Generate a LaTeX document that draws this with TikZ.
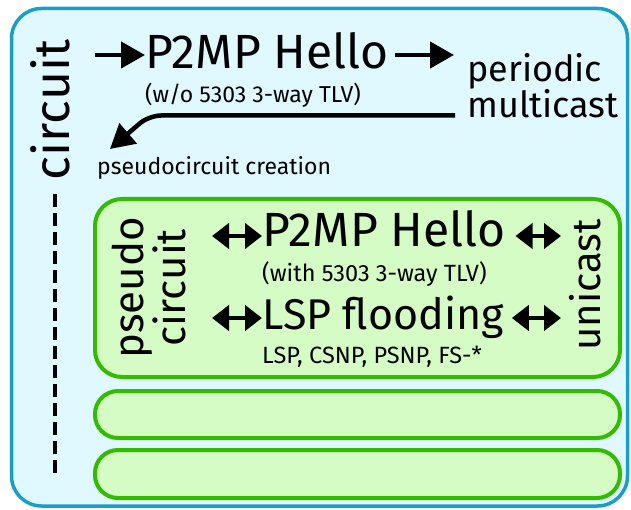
\documentclass[tikz,border=0pt]{standalone}
\usepackage{fontspec}
\setmainfont{Fira Sans}
\usetikzlibrary{arrows.meta}
\definecolor{outerline}{HTML}{1A9EC6}
\definecolor{outerfill}{HTML}{E0F8FF}
\definecolor{innerline}{HTML}{33BB00}
\definecolor{innerfill}{HTML}{D4FCC4}
\begin{document}
\begin{tikzpicture}[x=1pt,y=-1pt,
  outerbox/.style={draw=outerline,fill=outerfill,line width=3.5pt,rounded corners=30pt},
  innerbox/.style={draw=innerline,fill=innerfill,line width=4pt,rounded corners=#1},
  innerbox/.default=23pt,
  txt/.style={inner sep=0pt,font=\fontsize{#1}{#1}\selectfont},
  onearrow/.style={line width=4.5pt,-{Triangle[length=24pt,width=26pt]}},
  twoarrow/.style={line width=4.5pt,{Triangle[length=17pt,width=25pt]}-{Triangle[length=17pt,width=25pt]}}]
\useasboundingbox (0,0) rectangle (631,510);
% outer circuit frame
\draw[outerbox] (11.5,8.5) rectangle (627.5,506);
\node[txt=50,rotate=90,anchor=base] (circ) at (69,110) {circuit};
\coordinate (dtop) at (55,194);
\coordinate (dbot) at (55,478);
\draw[line width=4pt,dash pattern=on 13pt off 6pt] (dtop) -- (dbot);
% multicast hello
\node[txt=48,anchor=base west] (hello) at (145,69) {P2MP Hello};
\node[txt=23,anchor=base west] (wo) at (145,103) {(w/o 5303 3-way TLV)};
\node[txt=36,anchor=base west] (per) at (467,82) {periodic};
\node[txt=36,anchor=base west] (mul) at (467,118) {multicast};
\coordinate (a0) at (95,55);
\coordinate (a1) at (395,55);
\coordinate (a2) at (454,55);
\draw[onearrow] (a0) -- (a0 -| hello.west);
\draw[onearrow] (a1) -- (a2);
\coordinate (c0) at (455,115.5);
\coordinate (c1) at (149,115.5);
\coordinate (c2) at (110,149);
\draw[line width=4.5pt,rounded corners=12pt,-{Triangle[length=24pt,width=26pt]}] (c0) -- (c1) -- (c2);
\node[txt=23,anchor=base west] (pc) at (97,175) {pseudocircuit creation};
% pseudocircuit boxes
\draw[innerbox=27pt] (95,199) rectangle (620,377);
\draw[innerbox] (95,391) rectangle (620,438);
\draw[innerbox] (95,450) rectangle (620,498);
\node[txt=42,rotate=90,anchor=base] (pseudo) at (143,288) {pseudo};
\node[txt=42,rotate=90,anchor=base] (circ2) at (185,288) {circuit};
\node[txt=40,rotate=90,anchor=base] (uni) at (600,285) {unicast};
\node[txt=48,anchor=base west] (hello2) at (262,247) {P2MP Hello};
\node[txt=23.5,anchor=base west] (with) at (262,282) {(with 5303 3-way TLV)};
\node[txt=43,anchor=base west] (lsp) at (262,329) {LSP flooding};
\node[txt=23.5,anchor=base west] (lsplist) at (262,363) {LSP, CSNP, PSNP, FS-*};
\coordinate (h1) at (212,236);
\coordinate (h2) at (561,236);
\coordinate (l1) at (212,318);
\coordinate (l2) at (561,318);
\draw[twoarrow] (h1) -- (h1 -| hello2.west);
\draw[twoarrow] (h2 -| hello2.east) ++(10,0) -- (h2);
\draw[twoarrow] (l1) -- (l1 -| lsp.west);
\draw[twoarrow] (l2 -| lsp.east) ++(8,0) -- (l2);
\end{tikzpicture}
\end{document}
